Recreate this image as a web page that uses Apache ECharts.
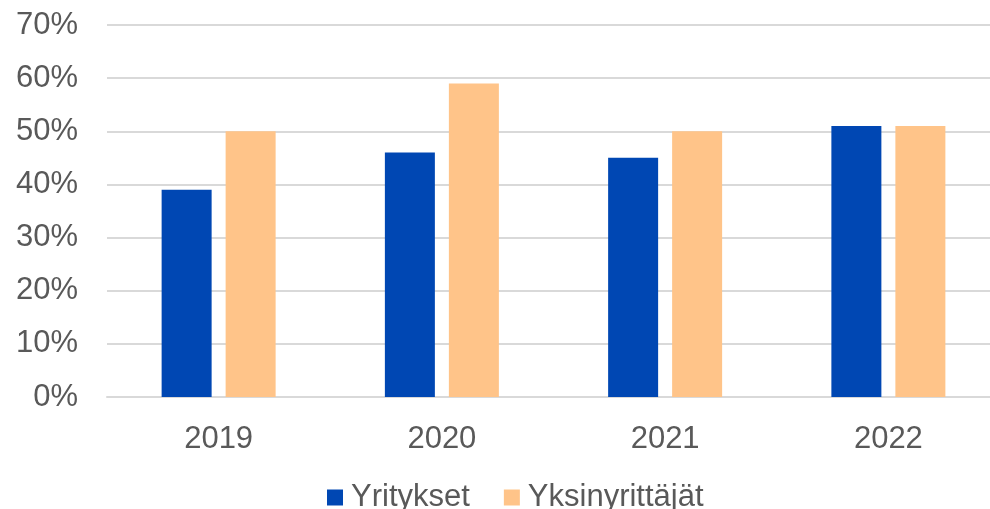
<!DOCTYPE html>
<html>
<head>
<meta charset="utf-8">
<script src="https://cdn.jsdelivr.net/npm/echarts@6/dist/echarts.min.js"></script>
<style>
  html, body { margin: 0; padding: 0; background: #fff; }
  #chart { width: 990px; height: 509px; }
</style>
</head>
<body>
<div id="chart"></div>
<script>
const years = ['2019', '2020', '2021', '2022'];
const yritykset = [39, 46, 45, 51];
const yksinyrittajat = [50, 59, 50, 51];

const chart = echarts.init(document.getElementById('chart'));
const font = '"Liberation Sans", Arial, sans-serif';

const option = {
    backgroundColor: '#ffffff',
    animation: false,
    grid: { left: 107, right: -10, top: 25, bottom: 112, outerBoundsMode: 'none' },
    legend: {
        data: ['Yritykset', 'Yksinyrittäjät'],
        top: 477,
        left: 322,
        itemWidth: 16,
        itemHeight: 16,
        itemGap: 34,
        icon: 'rect',
        textStyle: { fontFamily: font, fontSize: 31, color: '#595959', padding: [0, 0, 0, 3] }
    },
    xAxis: {
        type: 'category',
        data: years,
        axisTick: { show: false },
        axisLine: { lineStyle: { color: '#d9d9d9', width: 2 } },
        axisLabel: { fontFamily: font, fontSize: 31, color: '#595959', margin: 27 }
    },
    yAxis: {
        type: 'value',
        min: 0,
        max: 70,
        interval: 10,
        axisLine: { show: false },
        axisTick: { show: false },
        splitLine: { lineStyle: { color: '#d9d9d9', width: 2 } },
        axisLabel: { fontFamily: font, fontSize: 31, color: '#595959', margin: 29, formatter: '{value}%' }
    },
    series: [
        {
            name: 'Yritykset',
            type: 'bar',
            data: yritykset,
            barWidth: 50,
            barGap: '28%',
            itemStyle: { color: '#0047B3' }
        },
        {
            name: 'Yksinyrittäjät',
            type: 'bar',
            data: yksinyrittajat,
            barWidth: 50,
            itemStyle: { color: '#FFC489' }
        }
    ]
};

chart.setOption(option);
</script>
</body>
</html>
